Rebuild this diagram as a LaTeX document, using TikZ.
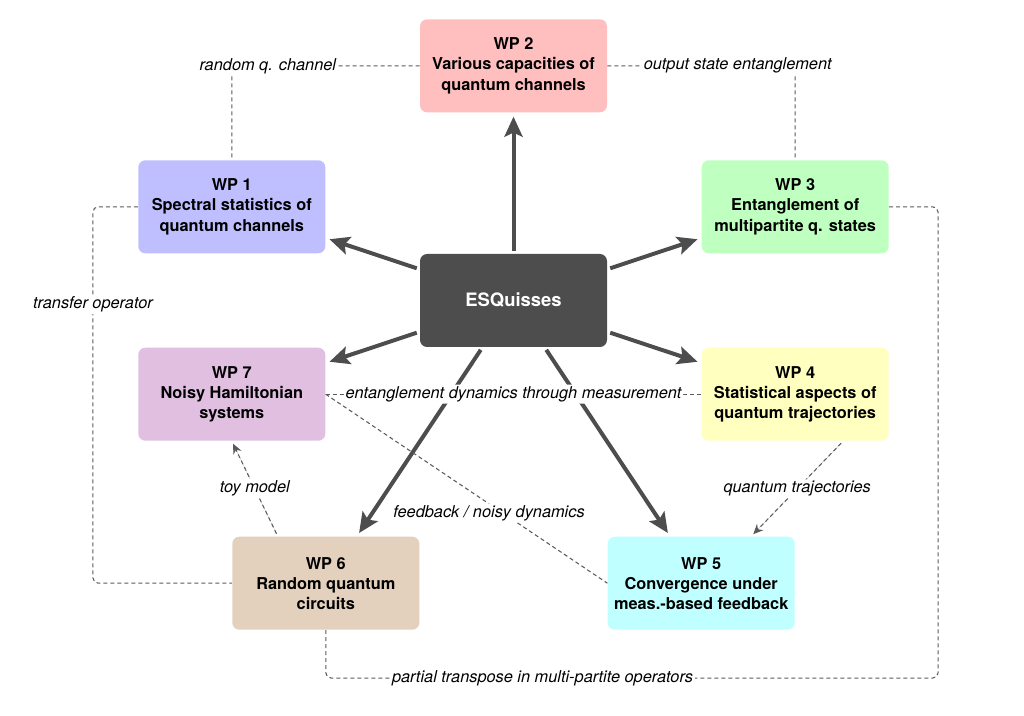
\documentclass[tikz,border=0pt]{standalone}
\usepackage{fontspec}
\setmainfont{TeX Gyre Heros}
\usepackage{xcolor}
\usepackage{tikz}
\usetikzlibrary{arrows.meta,positioning}
\usetikzlibrary{calc}

\definecolor{esqgray}{HTML}{4D4D4D}
\definecolor{linkgray}{HTML}{5A5A5A}
\definecolor{wpred}{HTML}{FFBFBF}
\definecolor{wpblue}{HTML}{BFBFFF}
\definecolor{wpgreen}{HTML}{BFFFBF}
\definecolor{wpyellow}{HTML}{FFFFBF}
\definecolor{wpcyan}{HTML}{BFFFFF}
\definecolor{wptan}{HTML}{E3D0BD}
\definecolor{wpmauve}{HTML}{E0BFE0}

\begin{document}
\begin{tikzpicture}[
                every node/.style={font=\fontsize{9.3}{11.4}\selectfont},
                wpbox/.style={rounded corners=4pt, align=center, inner sep=2pt, minimum width=3.74cm, minimum height=1.86cm, font=\fontsize{9.3}{11.4}\selectfont\bfseries},
                hub/.style={wpbox, fill=esqgray, text=white, font=\fontsize{10.5}{12}\selectfont\bfseries},
                rel/.style={-{Stealth[length=0.4cm, width=0.36cm, inset=0.08cm]}, line width=0.08cm, draw=esqgray, fill=esqgray, shorten <=0.06cm, shorten >=0.08cm},
                link/.style={draw=linkgray, line width=0.6pt, dash pattern=on 0.08cm off 0.06cm, rounded corners=3pt},
                linkarrow/.style={link, -{Stealth[length=0.2cm, width=0.18cm]}, fill=linkgray, shorten <=0.06cm, shorten >=0.06cm},
                edgelabel/.style={font=\fontsize{9.3}{11}\selectfont\itshape, fill=white, inner sep=1pt, text=black}
            ]
                \useasboundingbox (0,0) rectangle (20.48,-14.32);

                % central project box
                \node[hub] (esq) at (10.27,-6.01) {ESQuisses};

                % work packages around the hub
                \node[wpbox, fill=wpred, above=2.82cm of esq] (wp2) {WP 2\\Various capacities of\\quantum channels};
                \node[wpbox, fill=wpblue, above left=0cm and 1.88cm of esq.north west] (wp1) {WP 1\\Spectral statistics of\\quantum channels};
                \node[wpbox, fill=wpgreen, above right=0cm and 1.88cm of esq.north east] (wp3) {WP 3\\Entanglement of\\multipartite q. states};
                \node[wpbox, fill=wpmauve, below left=0cm and 1.88cm of esq.south west] (wp7) {WP 7\\Noisy Hamiltonian\\systems};
                \node[wpbox, fill=wpyellow, below right=0cm and 1.88cm of esq.south east] (wp4) {WP 4\\Statistical aspects of\\quantum trajectories};
                \node[wpbox, fill=wptan, below left=3.78cm and 0cm of esq.south west] (wp6) {WP 6\\Random quantum\\circuits};
                \node[wpbox, fill=wpcyan, below right=3.78cm and 0cm of esq.south east] (wp5) {WP 5\\Convergence under\\meas.-based feedback};

                % hub to every work package
                \foreach \wp in {wp1,wp2,wp3,wp4,wp5,wp6,wp7}
                    \draw[rel] (esq) -- (\wp);

                % dashed links between work packages
                \draw[link] (wp2.west) -| node[edgelabel, pos=0.5, xshift=0.72cm] {random q. channel} (wp1.north);
                \draw[link] (wp2.east) -| node[edgelabel, pos=0.5, xshift=-1.15cm] {output state entanglement} (wp3.north);
                \draw[link] (wp1.west) -- ++(-0.9,0) |- node[edgelabel, pos=0.13] {transfer operator} (wp6.west);
                \draw[link] (wp3.east) -- ++(0.98,0) |- node[edgelabel, pos=0.823] {partial transpose in multi-partite operators} ($(wp6.south)+(0,-0.96)$) -- (wp6.south);
                \draw[link] (wp7.east) -- node[edgelabel] {entanglement dynamics through measurement} (wp4.west);
                \draw[link] (wp7.east) -- node[edgelabel, pos=0.58, yshift=-0.18cm] {feedback / noisy dynamics} (wp5.west);

                % dashed arrows
                \draw[linkarrow] ([xshift=-0.96cm]wp6.north) -- node[edgelabel] {toy model} (wp7.south);
                \draw[linkarrow] ([xshift=0.96cm]wp4.south) -- node[edgelabel] {quantum trajectories} ([xshift=1cm]wp5.north);

            \end{tikzpicture}
\end{document}
